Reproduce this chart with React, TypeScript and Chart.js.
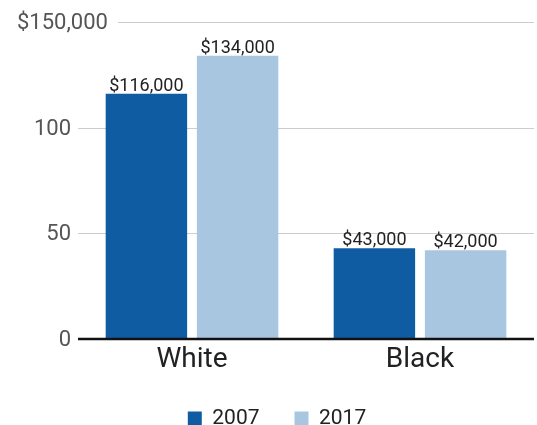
import React, { useEffect, useRef } from "react";
import { Chart, registerables } from "chart.js";

Chart.register(...registerables);

const categories = ["White", "Black"];
const seriesLabels = ["2007", "2017"];
const series2007 = [116000, 43000];
const series2017 = [134000, 42000];
const yTickValues = [0, 50000, 100000, 150000];
const yTickLabels = ["0", "50", "100", "$150,000"];
const seriesColors = ["#0f5ca3", "#a8c6e0"];

const FONT = "Roboto";

const axisPlugin = {
  id: "customAxis",
  beforeDatasetsDraw(chart: any) {
    const { ctx, chartArea } = chart;
    const y = chart.scales.y;
    ctx.save();
    ctx.font = `22px ${FONT}`;
    ctx.fillStyle = "#555555";
    ctx.textBaseline = "middle";
    yTickValues.forEach((v, i) => {
      const py = Math.round(y.getPixelForValue(v));
      const label = yTickLabels[i];
      let lineStart = chartArea.left;
      if (i === yTickValues.length - 1) {
        ctx.textAlign = "left";
        ctx.fillText(label, 17, py + 1);
        lineStart = 17 + ctx.measureText(label).width + 10;
      } else {
        ctx.textAlign = "right";
        ctx.fillText(label, chartArea.left - 7, py + 1);
      }
      if (v !== 0) {
        ctx.strokeStyle = "#cccccc";
        ctx.lineWidth = 1;
        ctx.beginPath();
        ctx.moveTo(lineStart, py + 0.5);
        ctx.lineTo(chartArea.right, py + 0.5);
        ctx.stroke();
      }
    });
    ctx.restore();
  },
  afterDatasetsDraw(chart: any) {
    const { ctx, chartArea } = chart;
    const y = chart.scales.y;
    ctx.save();
    const py = y.getPixelForValue(0);
    ctx.strokeStyle = "#111111";
    ctx.lineWidth = 2.5;
    ctx.beginPath();
    ctx.moveTo(chartArea.left, py);
    ctx.lineTo(chartArea.right, py);
    ctx.stroke();

    ctx.font = `18px ${FONT}`;
    ctx.fillStyle = "#222222";
    ctx.textAlign = "center";
    ctx.textBaseline = "alphabetic";
    chart.data.datasets.forEach((ds: any, di: number) => {
      const meta = chart.getDatasetMeta(di);
      meta.data.forEach((bar: any, i: number) => {
        const val = ds.data[i] as number;
        ctx.fillText("$" + val.toLocaleString("en-US"), bar.x, bar.y - 3);
      });
    });
    ctx.restore();
  },
};

export default function App() {
  const ref = useRef<HTMLCanvasElement | null>(null);
  useEffect(() => {
    document.body.style.margin = "0";
    document.body.style.overflow = "hidden";
    const canvas = ref.current;
    if (!canvas) return;
    const chart = new Chart(canvas, {
      type: "bar",
      data: {
        labels: categories,
        datasets: [
          {
            label: seriesLabels[0],
            data: series2007,
            backgroundColor: seriesColors[0],
            categoryPercentage: 0.8,
            barPercentage: 0.893,
          },
          {
            label: seriesLabels[1],
            data: series2017,
            backgroundColor: seriesColors[1],
            categoryPercentage: 0.8,
            barPercentage: 0.893,
          },
        ],
      },
      options: {
        responsive: false,
        animation: false,
        devicePixelRatio: 1,
        layout: { padding: { left: 20, right: 3, top: 22, bottom: 0 } },
        plugins: {
          legend: {
            position: "bottom",
            labels: {
              boxWidth: 14,
              boxHeight: 14,
              padding: 35,
              color: "#222222",
              font: { family: FONT, size: 21 },
            },
          },
          tooltip: { enabled: false },
        },
        scales: {
          x: {
            grid: { display: false, drawTicks: false },
            border: { display: false },
            ticks: {
              color: "#222222",
              font: { family: FONT, size: 28, lineHeight: 1 },
              padding: 7,
            },
            afterFit: (s: any) => {
              s.height = 34;
            },
          },
          y: {
            min: 0,
            max: 150000,
            ticks: { display: false, stepSize: 50000 },
            grid: { display: false, drawTicks: false },
            border: { display: false },
            afterFit: (s: any) => {
              s.width = 58;
            },
          },
        },
      },
      plugins: [axisPlugin],
    } as any);
    return () => chart.destroy();
  }, []);
  return (
    <div style={{ width: 537, height: 439 }}>
      <canvas ref={ref} width={537} height={439} style={{ display: "block" }} />
    </div>
  );
}
